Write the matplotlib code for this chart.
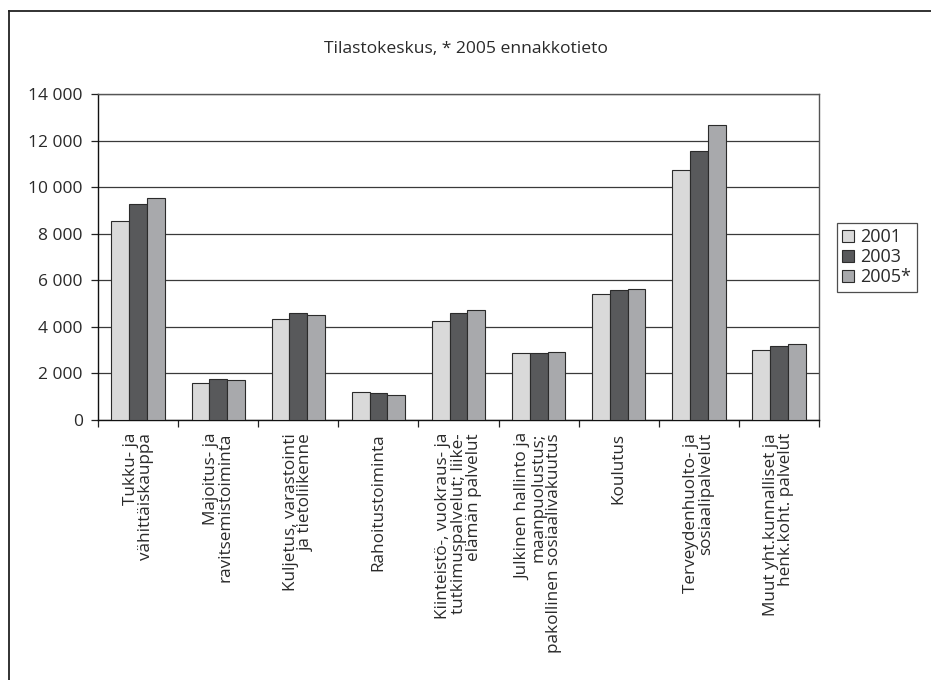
import numpy as np
import matplotlib.pyplot as plt
from matplotlib.lines import Line2D

plt.rcParams["font.family"] = ["Open Sans", "DejaVu Sans"]

# Toimialat ja henkilöstömäärät vuosittain
categories = [
    "Tukku- ja\nvähittäiskauppa",
    "Majoitus- ja\nravitsemistoiminta",
    "Kuljetus, varastointi\nja tietoliikenne",
    "Rahoitustoiminta",
    "Kiinteistö-, vuokraus- ja\ntutkimuspalvelut; liike-\nelämän palvelut",
    "Julkinen hallinto ja\nmaanpuolustus;\npakollinen sosiaalivakuutus",
    "Koulutus",
    "Terveydenhuolto- ja\nsosiaalipalvelut",
    "Muut yht.kunnalliset ja\nhenk.koht. palvelut",
]
years = ["2001", "2003", "2005*"]
v2001 = [8575, 1600, 4350, 1190, 4260, 2860, 5420, 10730, 3000]
v2003 = [9305, 1760, 4580, 1145, 4620, 2900, 5570, 11560, 3200]
v2005 = [9560, 1730, 4510, 1090, 4740, 2905, 5625, 12700, 3250]
yticks = [0, 2000, 4000, 6000, 8000, 10000, 12000, 14000]

colors = ["#d9d9d9", "#58595b", "#a8a9ac"]
txt = "#2a2a2a"

fig = plt.figure(figsize=(9.31, 6.8), dpi=100)
ax = fig.add_axes([0.1053, 0.3824, 0.7744, 0.4789])

x = np.arange(len(categories))
w = 0.222
for i, vals in enumerate([v2001, v2003, v2005]):
    ax.bar(x + (i - 1) * w, vals, w, color=colors[i], edgecolor="#2b2b2b",
           linewidth=0.8, label=years[i], zorder=3)

ax.set_xlim(-0.5, len(categories) - 0.5)
ax.set_ylim(0, 14000)
ax.set_yticks(yticks)
ax.set_yticklabels([f"{v:,}".replace(",", " ") for v in yticks], fontsize=12.5, color=txt)
ax.yaxis.grid(True, color="#3a3a3a", linewidth=0.9, zorder=0)

# ticks between the categories, labels at category centres
ax.set_xticks(np.arange(-0.5, len(categories), 1.0))
ax.set_xticklabels([])
ax.tick_params(axis="x", length=5, width=0.9, direction="out", color="#222222")
ax.tick_params(axis="y", length=5, width=0.9, direction="out", color="#222222", pad=6)
for i, lab in enumerate(categories):
    ax.text(i, -0.04, lab, transform=ax.get_xaxis_transform(), rotation=90,
            ha="center", va="top", multialignment="right", fontsize=12.3,
            color=txt, linespacing=0.92)

for side in ["left", "bottom"]:
    ax.spines[side].set_color("#111111")
    ax.spines[side].set_linewidth(1.0)
for side in ["top", "right"]:
    ax.spines[side].set_color("#555555")
    ax.spines[side].set_linewidth(1.0)

leg = ax.legend(loc="center left", bbox_to_anchor=(1.025, 0.5), fontsize=13,
                frameon=True, fancybox=False, edgecolor="#222222",
                handlelength=0.65, handleheight=0.65, handletextpad=0.35,
                borderpad=0.3, labelspacing=0.12, borderaxespad=0)
leg.get_frame().set_linewidth(0.9)
for t in leg.get_texts():
    t.set_color(txt)

fig.text(0.5, 0.928, "Tilastokeskus, * 2005 ennakkotieto", ha="center", va="center",
         fontsize=12.6, color=txt)

# outer frame (top and left edge)
fig.add_artist(Line2D([0.0097, 1.0], [0.9838, 0.9838], transform=fig.transFigure,
                      color="#222222", linewidth=1.3))
fig.add_artist(Line2D([0.0097, 0.0097], [0.0, 0.9838], transform=fig.transFigure,
                      color="#222222", linewidth=1.3))

fig.savefig("out.png", dpi=100)
